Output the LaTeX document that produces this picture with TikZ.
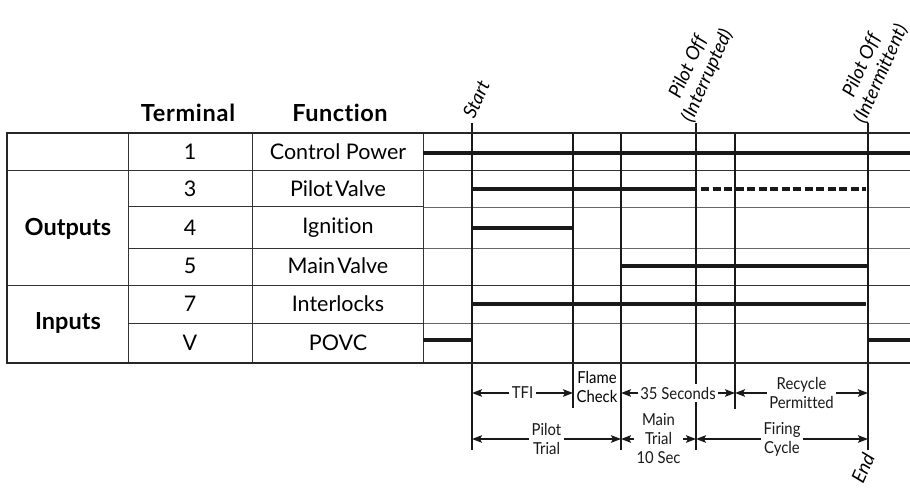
\documentclass[tikz,border=0pt]{standalone}
\usepackage{fontspec}
\setmainfont{Lato}[Ligatures=NoCommon]
\newfontfamily\narrowfont{Lato}[FakeStretch=0.9,Ligatures=NoCommon]
\usetikzlibrary{arrows.meta}
\begin{document}
\begin{tikzpicture}[x=1pt,y=-1pt,
  frame/.style={line width=2pt,black!85},
  gridl/.style={line width=1pt,black!80},
  rowl/.style={line width=0.9pt,black!60},
  tline/.style={line width=1.6pt,black!90},
  sig/.style={line width=4pt,black!90},
  sigdash/.style={sig,dash pattern=on 8pt off 3.5pt},
  cell/.style={font=\fontsize{21.5}{24}\selectfont,inner sep=0pt},
  head/.style={font=\bfseries\fontsize{23.5}{26}\selectfont,inner sep=0pt},
  dim/.style={{Stealth[length=10pt,width=7.5pt,inset=2pt]}-{Stealth[length=10pt,width=7.5pt,inset=2pt]},line width=1.6pt,black!90},
  dimlbl/.style={fill=white,font=\narrowfont\fontsize{16.5}{19}\selectfont,align=center,inner sep=2.5pt},
  rotlbl/.style={font=\itshape\fontsize{19}{21}\selectfont,rotate=66,align=center,inner sep=1pt}]
\useasboundingbox (0,0) rectangle (910,489);
% time marks
\coordinate (tA) at (472,0);
\coordinate (tB) at (573,0);
\coordinate (tC) at (621,0);
\coordinate (tD) at (696,0);
\coordinate (tE) at (735,0);
\coordinate (tF) at (868,0);
\coordinate (r1) at (0,393);
\coordinate (r2) at (0,439);
% row lines
\draw[gridl] (7,171) -- (910,171);
\draw[gridl] (7,285) -- (910,285);
\foreach \yy in {207,248,323} \draw[gridl] (128,\yy) -- (423,\yy);
\foreach \yy in {207,248,323} \draw[rowl] (423,\yy) -- (910,\yy);
% columns
\foreach \xx in {128,252,423} \draw[gridl] (\xx,133) -- (\xx,363);
% time lines
\draw[tline] (472,123) -- (472,450);
\draw[tline] (573,133) -- (573,408);
\draw[tline] (621,133) -- (621,450);
\draw[tline] (696,123) -- (696,450);
\draw[tline] (735,133) -- (735,409);
\draw[tline] (868,123) -- (868,450);
% frame
\draw[frame] (910,133) -- (7,133) -- (7,363) -- (910,363);
% headers
\node[head] (hTerm) at (188,113) {\addfontfeature{LetterSpace=3}Terminal};
\node[head] (hFunc) at (340,113) {\addfontfeature{LetterSpace=2}Function};
\node[head] (gOut) at (68,229) {Outputs};
\node[head] (gIn) at (68,323) {Inputs};
% cells
\node[cell] (n1) at (190,152) {1};
\node[cell] (n3) at (190,189) {3};
\node[cell] (n4) at (190,228) {4};
\node[cell] (n5) at (190,266) {5};
\node[cell] (n7) at (190,304) {7};
\node[cell] (nV) at (190,343) {V};
\node[cell] (f1) at (338,152) {Control Power};
\node[cell] (f3) at (338,189) {Pilot\kern-0.15em\ Valve};
\node[cell] (f4) at (338,228) {Ignition};
\node[cell] (f5) at (338,266) {Main\kern-0.15em\ Valve};
\node[cell] (f7) at (338,304) {Interlocks};
\node[cell] (fV) at (338,343) {POVC};
% signals
\draw[sig] (423,153) -- (910,153);
\draw[sig] (tA|-f3) -- (tD|-f3);
\draw[sigdash] (701,189) -- (866,189);
\draw[sig] (tA|-f4) -- (tB|-f4);
\draw[sig] (tC|-f5) -- (tF|-f5);
\draw[sig] (472,304) -- (866,304);
\draw[sig] (423,340) -- (472,340);
\draw[sig] (868,340) -- (910,340);
% rotated labels
\node[rotlbl,anchor=base west] (lStart) at (474,121) {Start};
\node[rotlbl,anchor=south west] (lPI) at (696,126) {Pilot Off\\(Interrupted)};
\node[rotlbl,anchor=south west] (lPM) at (868,127) {Pilot Off\\(Intermittent)};
\node[rotlbl,anchor=north east] (lEnd) at (862,450) {End};
% dimension arrows
\draw[dim] (tA|-r1) -- node[dimlbl] (dTFI) {TFI} (tB|-r1);
\node[dimlbl,fill=none,inner sep=0pt] (dFC) at (597,387) {Flame\\Check};
\draw[dim] (tC|-r1) -- node[dimlbl] (d35) {35 Seconds} (tE|-r1);
\draw[dim] (tE|-r1) -- node[dimlbl] (dRP) {Recycle\\Permitted} (tF|-r1);
\draw[dim] (tA|-r2) -- node[dimlbl] (dPT) {Pilot\\Trial} (tC|-r2);
\draw[dim] (tC|-r2) -- node[dimlbl] (dMT) {Main\\Trial\\10 Sec} (tD|-r2);
\draw[dim] (tD|-r2) -- node[dimlbl] (dFCy) {Firing\\Cycle} (tF|-r2);
\end{tikzpicture}
\end{document}
